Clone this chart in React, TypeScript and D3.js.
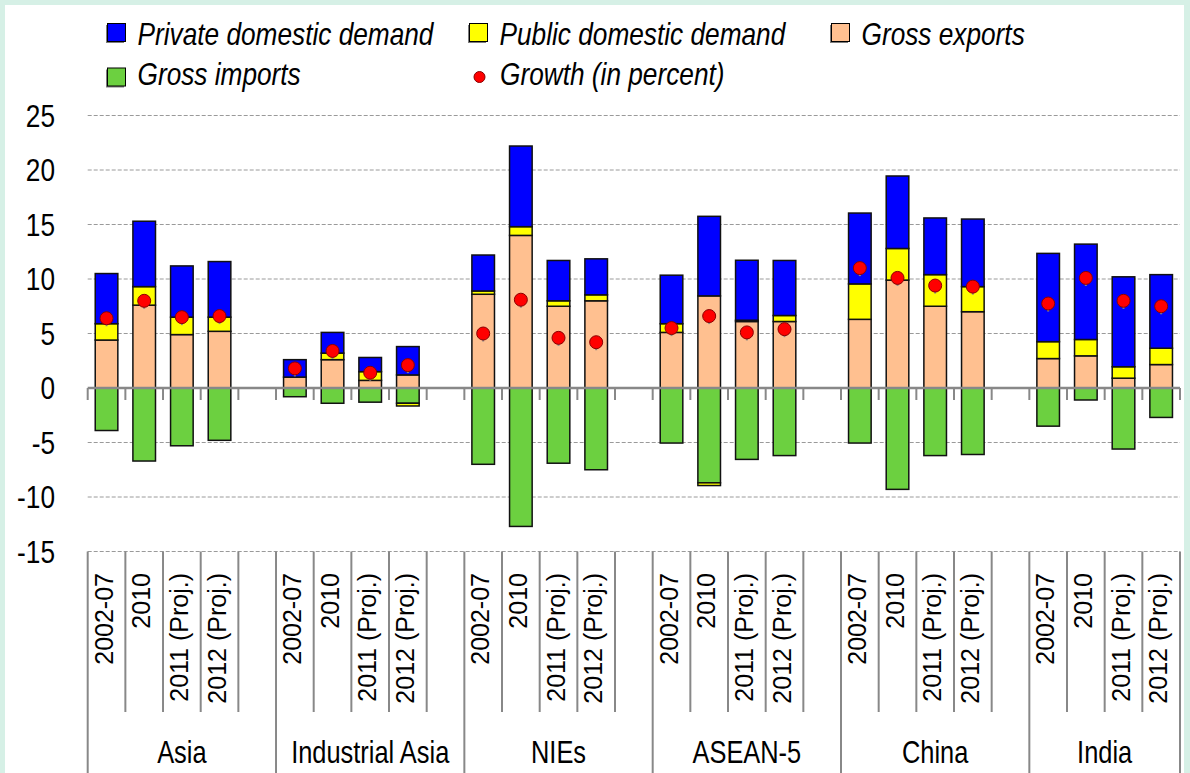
import * as d3 from "d3";

const groups = ["Asia", "Industrial Asia", "NIEs", "ASEAN-5", "China", "India"];
const periods = ["2002-07", "2010", "2011 (Proj.)", "2012 (Proj.)"];

// one value per group x period, in group order
const grossExports = [
  4.4, 7.6, 4.9, 5.2,
  1.0, 2.6, 0.7, 1.2,
  8.6, 14.0, 7.5, 8.0,
  5.1, 8.45, 6.1, 6.1,
  6.3, 9.9, 7.5, 7.0,
  2.7, 2.95, 0.9, 2.15,
];
const publicDemand = [
  1.5, 1.7, 1.6, 1.3,
  0.0, 0.6, 0.8, -0.25,
  0.3, 0.8, 0.5, 0.55,
  0.8, -0.25, 0.12, 0.55,
  3.25, 2.9, 2.9, 2.3,
  1.55, 1.5, 1.05, 1.5,
];
const privateDemand = [
  4.6, 6.0, 4.7, 5.1,
  1.6, 1.9, 1.3, 2.6,
  3.3, 7.4, 3.7, 3.3,
  4.45, 7.3, 5.5, 5.05,
  6.5, 6.65, 5.2, 6.2,
  8.1, 8.75, 8.25, 6.75,
];
const grossImports = [
  -3.9, -6.7, -5.3, -4.8,
  -0.8, -1.4, -1.3, -1.4,
  -7.0, -12.7, -6.9, -7.5,
  -5.05, -8.7, -6.55, -6.2,
  -5.05, -9.3, -6.2, -6.1,
  -3.5, -1.1, -5.6, -2.7,
];
const growth = [
  6.4, 8.0, 6.5, 6.6,
  1.8, 3.4, 1.4, 2.1,
  5.0, 8.1, 4.6, 4.2,
  5.5, 6.6, 5.1, 5.4,
  11.0, 10.1, 9.4, 9.3,
  7.75, 10.1, 8.0, 7.5,
];
const yTicks = [25, 20, 15, 10, 5, 0, -5, -10, -15];

const W = 1190;
const H = 773;
const font = "'Liberation Sans', Arial, sans-serif";
const squeeze = 0.82; // no narrow face installed, so squeeze Liberation Sans

const colors: Record<string, string> = {
  exports: "#ffc090",
  imports: "#6cd040",
  pub: "#ffff00",
  priv: "#0000ff",
};

// 29 slots: 4 bars + one empty slot per group, no empty slot after the last group
const slots: { key: string; row: number | null }[] = [];
groups.forEach((g, gi) => {
  periods.forEach((p, pi) => slots.push({ key: `${g}|${p}`, row: gi * 4 + pi }));
  if (gi < groups.length - 1) slots.push({ key: `${g}|gap`, row: null });
});

const rows = grossExports.map((_, i) => ({
  i,
  exports: grossExports[i],
  imports: grossImports[i],
  pub: publicDemand[i],
  priv: privateDemand[i],
}));

const stack = d3
  .stack<any>()
  .keys(["exports", "imports", "pub", "priv"])
  .offset(d3.stackOffsetDiverging);
const series = stack(rows);

const x = d3
  .scaleBand<string>()
  .domain(slots.map((s) => s.key))
  .range([87.7, 1180])
  .paddingInner(0.4)
  .paddingOuter(0.2);
const step = x.step();
const x0 = 87.7;
const y = d3.scaleLinear().domain([-15, 25]).range([551.5, 115.5]);

const keyOf = (i: number) => slots.find((d) => d.row === i)!.key;

const legendItems = [
  { label: "Private domestic demand", color: colors.priv, x: 107.5, row: 0 },
  { label: "Public domestic demand", color: colors.pub, x: 469.5, row: 0 },
  { label: "Gross exports", color: colors.exports, x: 831.5, row: 0 },
  { label: "Gross imports", color: colors.imports, x: 107.5, row: 1 },
];

const NarrowText = ({
  x,
  y,
  size,
  anchor = "start",
  italic = false,
  children,
}: {
  x: number;
  y: number;
  size: number;
  anchor?: string;
  italic?: boolean;
  children: any;
}) => (
  <text
    transform={`translate(${x},${y}) scale(${squeeze},1)`}
    textAnchor={anchor}
    fontFamily={font}
    fontStyle={italic ? "italic" : "normal"}
    fontSize={size}
    fill="#000"
  >
    {children}
  </text>
);

export default function App() {
  const zeroY = y(0);
  const axisTop = y(-15);
  return (
    <svg width={W} height={H} style={{ position: "absolute", left: 0, top: 0 }}>
      <rect width={W} height={H} fill="#d6f0e6" />
      <rect x={5} y={5} width={1179} height={H - 5} fill="#ffffff" />

      {/* legend */}
      {legendItems.map((d) => {
        const sy = d.row === 0 ? 23.5 : 68;
        return (
          <g key={d.label}>
            <rect x={d.x - 1.5} y={sy + 1.5} width={18} height={18} fill="#444" opacity={0.7} />
            <rect x={d.x} y={sy} width={18} height={18} fill={d.color} stroke="#000" strokeWidth={1} />
            <NarrowText x={d.x + 30} y={d.row === 0 ? 45 : 85} size={32} italic>
              {d.label}
            </NarrowText>
          </g>
        );
      })}
      <circle cx={479.5} cy={77} r={5.5} fill="#ff0000" stroke="#880000" strokeWidth={1} />
      <NarrowText x={500} y={85} size={32} italic>
        Growth (in percent)
      </NarrowText>

      {/* grid */}
      {yTicks.map((t) => (
        <g key={t}>
          {t !== 0 && (
            <line
              x1={x0}
              x2={1180}
              y1={y(t)}
              y2={y(t)}
              stroke="#9a9a9a"
              strokeWidth={1}
              strokeDasharray="4,2"
            />
          )}
          <NarrowText x={55} y={y(t) + 11} size={32} anchor="end">
            {t}
          </NarrowText>
        </g>
      ))}

      {/* stacked bars */}
      {series.map((s) => (
        <g key={s.key} fill={colors[s.key]} stroke="#111" strokeWidth={1.5}>
          {s.map((d, i) => {
            const top = y(Math.max(d[0], d[1]));
            const h = Math.abs(y(d[0]) - y(d[1]));
            if (h < 0.5) return null;
            return <rect key={i} x={x(keyOf(i))} y={top} width={x.bandwidth()} height={h} />;
          })}
        </g>
      ))}

      {/* zero axis with ticks */}
      <line x1={x0} x2={1180} y1={zeroY} y2={zeroY} stroke="#888" strokeWidth={2.5} />
      {d3.range(slots.length + 1).map((i) => (
        <line
          key={i}
          x1={x0 + i * step}
          x2={x0 + i * step}
          y1={zeroY}
          y2={zeroY + 12}
          stroke="#888"
          strokeWidth={2}
        />
      ))}

      {/* growth dots */}
      {growth.map((g, i) => {
        const cx = (x(keyOf(i)) as number) + x.bandwidth() / 2;
        const cy = y(g);
        return (
          <g key={i}>
            <rect x={cx - 1} y={cy + 4} width={2} height={4} fill="#888" />
            <circle cx={cx} cy={cy} r={6.5} fill="#ff0000" stroke="#8a0000" strokeWidth={1} />
          </g>
        );
      })}

      {/* category axis, two levels */}
      {slots.map((s, i) => {
        const isGroupStart = i === 0 || slots[i - 1].row === null;
        return (
          <line
            key={s.key}
            x1={x0 + i * step}
            x2={x0 + i * step}
            y1={axisTop}
            y2={isGroupStart ? H : 712}
            stroke="#888"
            strokeWidth={2}
          />
        );
      })}
      <line x1={1180} x2={1180} y1={axisTop} y2={H} stroke="#888" strokeWidth={2} />
      {slots
        .filter((s) => s.row !== null)
        .map((s) => {
          const cx = (x(s.key) as number) + x.bandwidth() / 2;
          const label = periods[(s.row as number) % 4];
          return (
            <text
              key={s.key}
              transform={`translate(${cx + 6},573) rotate(-90)`}
              textAnchor="end"
              fontFamily={font}
              fontSize={25}
              fill="#000"
            >
              {label}
            </text>
          );
        })}
      {groups.map((g, gi) => {
        const start = x0 + gi * 5 * step;
        const end = Math.min(start + 5 * step, 1180);
        return (
          <NarrowText key={g} x={(start + end) / 2} y={763} size={31} anchor="middle">
            {g}
          </NarrowText>
        );
      })}
    </svg>
  );
}
